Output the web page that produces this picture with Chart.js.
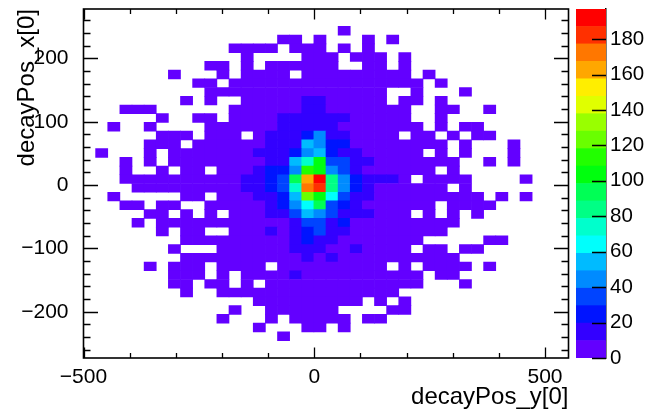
<!DOCTYPE html>
<html>
<head>
<meta charset="utf-8">
<script src="https://cdn.jsdelivr.net/npm/chart.js@4.4.1/dist/chart.umd.min.js"></script>
<style>
  html, body { margin: 0; padding: 0; background: #fff; }
  #wrap { position: relative; width: 645px; height: 413px; }
  #wrap canvas { position: absolute; top: 0; }
  #main { left: 0; }
  #zbar { left: 576px; }
</style>
</head>
<body>
<div id="wrap">
  <canvas id="main" width="645" height="413"></canvas>
  <canvas id="zbar" width="69" height="413"></canvas>
</div>
<script>
// histogram binning (TTree::Draw default 40x40)
const xRange = [-500, 551];
const yRange = [-273, 278];
const nBinsX = 40;
const nBinsY = 40;
const zMax = 197;
const nLevels = 20;

// colour level of every bin, top row first
// '.' = empty bin, 0-9 then a-j = contour level 10-19
const levelRows = [
    '.......... .......... .......... ..........',
    '.......... .......... .......... ..........',
    '.......... .......... .0........ ..........',
    '.......... ......00.0 ...0.0.... ..........',
    '.......... ..0000.000 .0.0...... ..........',
    '.......... ...0....00 0.000.0... ..........',
    '.......... 00.0.00000 0..00.0... ..........',
    '.......0.. .0.0000.00 0000000.0. ..........',
    '.........0 0.00000000 00000000.0 ..........',
    '.......... 0000000000 00000..0.. .0........',
    '........0. 0..0000011 00000.00.0 ..........',
    '...000.... ..00000011 0000000..0 0..0......',
    '......0..0 0.00001111 1100000..0 ..........',
    '..0..0.... 0000001111 10000000.0 .00.......',
    '......000. 000.011124 110000.00. 0.00......',
    '.....000.0 0000011154 2200000000 .0...0....',
    '.0...0.000 0000111245 21100000.0 .0...0....',
    '...0.0.000 000001157a 3311000000 0..0.0....',
    '...0..0.00 .0001224ba 431000000. 0.........',
    '...0000000 00011239gj 8421110.00 00....0...',
    '....000000 00011237hi 8421000000 .0........',
    '..0.....00 .0001125ca 6311000000 000.0.0...',
    '...00.00.. 0000012469 321000000. 0000......',
    '.....00.0. 0.00011354 3111000.0. 0.0.......',
    '....0.0000 0000000133 1200000000 0.........',
    '......0.00 ..00010123 1100000000 ..........',
    '........00 0000000121 10000000.. ...00.....',
    '.......0.. .000000111 0010000.00 .00.......',
    '........00 0000000010 1000000000 0.........',
    '.....0.000 .0000.0000 00000.0.00 00.0......',
    '.......000 .0.0000100 00000000.0 0.........',
    '.......00. 00.0.00000 00000000.. .0........',
    '........0. .000000000 000000.... ..........',
    '.......... ....000000 000.0.0... ..........',
    '.......... ..0..00000 0....00... ..........',
    '.......... .0...0.000 00.00..... ..........',
    '.......... ....0...00 .0........ ..........',
    '.......... ......0... .......... ..........',
    '.......... .......... .......... ..........',
    '.......... .......... .......... ..........'
];

const xMajorTicks = [-500, 0, 500];
const xMinorTicks = [-400, -300, -200, -100, 100, 200, 300, 400];
const yMajorTicks = [-200, -100, 0, 100, 200];
const yMinorTicks = [-260, -240, -220, -180, -160, -140, -120, -80, -60, -40, -20,
    20, 40, 60, 80, 120, 140, 160, 180, 220, 240, 260];
const zTicks = [0, 20, 40, 60, 80, 100, 120, 140, 160, 180];

const FONT = 'Liberation Sans, Arial, Helvetica, sans-serif';

// ROOT "pretty palette" (SetPalette(1)), picked for 20 contours
function levelColor(k) {
    const idx = Math.floor((k + 0.99) * 50 / nLevels);
    const hue = idx >= 49 ? 0 : 280 - (idx + 1) * 5.6;
    return 'hsl(' + hue + ', 100%, 50%)';
}

function fmt(v) {
    return v < 0 ? '\u2212' + Math.abs(v) : String(v);
}

// keep Chart.js from reserving room for half a tick label at the ends
function noEdgePadding(s) {
    s.paddingTop = 0;
    s.paddingBottom = 0;
    s.paddingLeft = 0;
    s.paddingRight = 0;
}

const dx = (xRange[1] - xRange[0]) / nBinsX;
const dy = (yRange[1] - yRange[0]) / nBinsY;
const levelStep = zMax / nLevels;

const cells = [];
const cellColors = [];
levelRows.forEach((line, r) => {
    const row = line.replace(/ /g, '');
    const j = nBinsY - 1 - r;
    for (let i = 0; i < row.length; i++) {
        if (row[i] === '.') continue;
        const count = (parseInt(row[i], 36) + 0.5) * levelStep;
        cells.push({
            x: xRange[0] + (i + 0.5) * dx,
            y: [yRange[0] + j * dy, yRange[0] + (j + 1) * dy],
            count: count
        });
        cellColors.push(levelColor(Math.floor(count / levelStep)));
    }
});

// ROOT style frame with inward ticks on all four sides
const frameTicks = {
    id: 'frameTicks',
    afterDatasetsDraw(chart) {
        const { ctx, chartArea: a, scales: { x, y } } = chart;
        ctx.save();
        ctx.strokeStyle = '#000';
        ctx.lineWidth = 1.3;
        ctx.beginPath();
        const xt = (list, len) => list.forEach(v => {
            const px = Math.round(x.getPixelForValue(v)) + 0.5;
            ctx.moveTo(px, a.bottom); ctx.lineTo(px, a.bottom - len);
            ctx.moveTo(px, a.top); ctx.lineTo(px, a.top + len);
        });
        const yt = (list, len) => list.forEach(v => {
            const py = Math.round(y.getPixelForValue(v)) + 0.5;
            ctx.moveTo(a.left, py); ctx.lineTo(a.left + len, py);
            ctx.moveTo(a.right, py); ctx.lineTo(a.right - len, py);
        });
        xt(xMajorTicks, 10.5);
        xt(xMinorTicks, 5);
        yt(yMajorTicks, 14.5);
        yt(yMinorTicks, 7);
        ctx.stroke();
        ctx.lineWidth = 1.6;
        ctx.strokeRect(a.left, a.top, a.right - a.left, a.bottom - a.top);
        ctx.restore();
    }
};

new Chart(document.getElementById('main'), {
    type: 'bar',
    data: {
        datasets: [{
            data: cells,
            backgroundColor: cellColors,
            borderWidth: 0,
            barPercentage: 1,
            categoryPercentage: 1
        }]
    },
    options: {
        responsive: false,
        animation: false,
        layout: { padding: { left: 0, right: 76.5, top: 9, bottom: 0 } },
        plugins: { legend: { display: false }, tooltip: { enabled: false } },
        scales: {
            x: {
                type: 'linear',
                min: xRange[0],
                max: xRange[1],
                offset: false,
                grid: { display: false, drawTicks: false },
                border: { display: false },
                afterBuildTicks: s => { s.ticks = xMajorTicks.map(v => ({ value: v })); },
                afterFit: s => { s.height = 55; noEdgePadding(s); },
                ticks: {
                    callback: fmt,
                    color: '#000',
                    font: { family: FONT, size: 21 },
                    padding: 7,
                    maxRotation: 0,
                    autoSkip: false
                },
                title: {
                    display: true,
                    text: 'decayPos_y[0]',
                    align: 'end',
                    color: '#000',
                    font: { family: FONT, size: 24 },
                    padding: { top: 0, bottom: 1 }
                }
            },
            y: {
                type: 'linear',
                min: yRange[0],
                max: yRange[1],
                grid: { display: false },
                border: { display: false },
                afterBuildTicks: s => { s.ticks = yMajorTicks.map(v => ({ value: v })); },
                afterFit: s => { s.width = 83.5; noEdgePadding(s); },
                ticks: {
                    callback: fmt,
                    color: '#000',
                    font: { family: FONT, size: 21 },
                    padding: 7
                },
                title: {
                    display: true,
                    text: 'decayPos_x[0]',
                    align: 'end',
                    color: '#000',
                    font: { family: FONT, size: 24 },
                    padding: { top: 13, bottom: 0 }
                }
            }
        }
    },
    plugins: [frameTicks]
});

// palette axis
const zAxisTicks = {
    id: 'zAxisTicks',
    afterDraw(chart) {
        const { ctx, chartArea: a, scales: { y } } = chart;
        ctx.save();
        ctx.strokeStyle = '#000';
        ctx.lineWidth = 1.3;
        ctx.beginPath();
        zTicks.forEach(v => {
            const py = Math.round(y.getPixelForValue(v)) + 0.5;
            ctx.moveTo(a.right, py);
            ctx.lineTo(a.right - 14, py);
        });
        ctx.stroke();
        ctx.restore();
    }
};

const levelIndex = Array.from({ length: nLevels }, (_, k) => k);

new Chart(document.getElementById('zbar'), {
    type: 'bar',
    data: {
        labels: [''],
        datasets: levelIndex.map(k => ({
            data: [levelStep],
            backgroundColor: levelColor(k),
            borderWidth: 0,
            barPercentage: 1,
            categoryPercentage: 1
        }))
    },
    options: {
        responsive: false,
        animation: false,
        layout: { padding: { left: 0, right: 0, top: 9, bottom: 55 } },
        plugins: { legend: { display: false }, tooltip: { enabled: false } },
        scales: {
            x: { display: false, stacked: true },
            y: {
                position: 'right',
                stacked: true,
                min: 0,
                max: zMax,
                grid: { display: false, drawTicks: false },
                border: { display: true, color: '#000', width: 1.5 },
                afterBuildTicks: s => { s.ticks = zTicks.map(v => ({ value: v })); },
                afterFit: s => { s.width = 39; noEdgePadding(s); },
                ticks: {
                    color: '#000',
                    font: { family: FONT, size: 20.5 },
                    padding: 4
                }
            }
        }
    },
    plugins: [zAxisTicks]
});
</script>
</body>
</html>
